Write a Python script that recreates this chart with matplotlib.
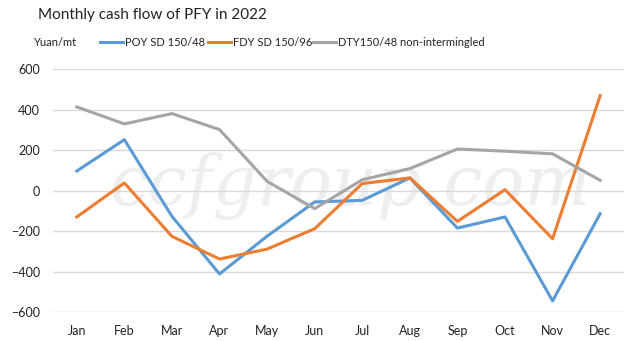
import matplotlib
matplotlib.use('Agg')
import matplotlib.pyplot as plt

plt.rcParams['font.family'] = ['Lato', 'DejaVu Sans']

months = ['Jan', 'Feb', 'Mar', 'Apr', 'May', 'Jun', 'Jul', 'Aug', 'Sep', 'Oct', 'Nov', 'Dec']
poy = [97, 252, -127, -412, -225, -56, -48, 63, -185, -130, -545, -114]
fdy = [-130, 38, -226, -338, -289, -188, 35, 63, -152, 5, -238, 470]
dty = [414, 330, 381, 302, 46, -89, 54, 109, 206, 195, 182, 51]
names = ['POY SD 150/48', 'FDY SD 150/96', 'DTY150/48 non-intermingled']
colors = ['#5B9BD5', '#ED7D31', '#A5A5A5']

fig = plt.figure(figsize=(6.43, 3.41), dpi=100)
ax = fig.add_axes([0.0824, 0.085, 0.888, 0.7118])

# watermark
ax.text(0.52, 0.52, 'ccfgroup.com', transform=ax.transAxes, ha='center', va='center',
        fontsize=50, family='DejaVu Serif', style='italic', color='#EEEEEE', zorder=0)

x = range(len(months))
lines = []
for vals, name, c in zip([poy, fdy, dty], names, colors):
    ln, = ax.plot(x, vals, color=c, lw=2.2, label=name, zorder=3)
    lines.append(ln)

ax.set_xlim(-0.5, len(months) - 0.5)
ax.set_ylim(-600, 600)
ax.set_yticks(range(-600, 601, 200))
ax.set_xticks(list(x))
ax.set_xticklabels(months)
ax.grid(axis='y', color='#D9D9D9', lw=1)
ax.set_axisbelow(True)
for s in ax.spines.values():
    s.set_visible(False)
ax.tick_params(length=0, labelsize=9, colors='#222222')
ax.tick_params(axis='x', pad=9)
ax.tick_params(axis='y', pad=9.5)

fig.text(38 / 643, 1 - 15 / 341, 'Monthly cash flow of PFY in 2022', fontsize=11,
         va='center', ha='left', color='#222222')
fig.text(33 / 643, 1 - 43 / 341, 'Yuan/mt', fontsize=8, va='center', ha='left', color='#222222')

# one legend per series so each entry starts where the reference has it
starts = [100, 208, 313]
for ln, xs in zip(lines, starts):
    leg = fig.legend(handles=[ln], loc='center left', bbox_to_anchor=(xs / 643, 1 - 42 / 341),
                     frameon=False, fontsize=8, handlelength=2.1, handletextpad=0.15,
                     borderaxespad=0, borderpad=0)
    for t in leg.get_texts():
        t.set_color('#222222')

fig.savefig('out.png', dpi=100)
